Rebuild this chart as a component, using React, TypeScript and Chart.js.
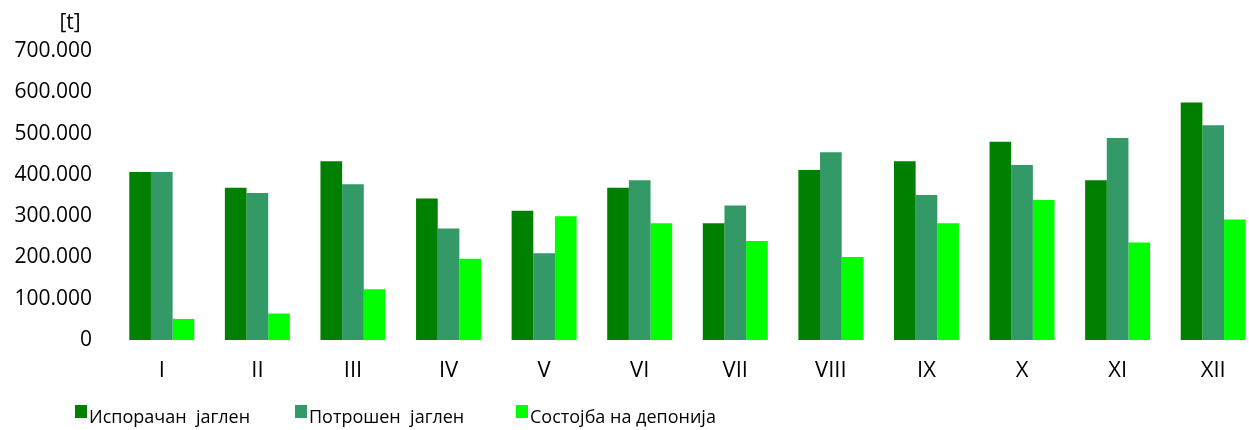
import React, { useEffect, useRef } from 'react';
import { Chart, registerables } from 'chart.js';

Chart.register(...registerables);

const categories = ['I', 'II', 'III', 'IV', 'V', 'VI', 'VII', 'VIII', 'IX', 'X', 'XI', 'XII'];
const seriesNames = ['Испорачан  јаглен', 'Потрошен  јаглен', 'Состојба на депонија'];
const delivered = [407000, 369000, 433000, 343000, 313000, 369000, 283000, 412000, 433000, 480000, 387000, 575000];
const consumed = [407000, 356000, 377000, 270000, 210000, 387000, 326000, 455000, 351000, 424000, 489000, 520000];
const stockpile = [51000, 64000, 123000, 197000, 300000, 283000, 240000, 201000, 283000, 339000, 236000, 292000];
const seriesColors = ['#008000', '#339966', '#00FF00'];
const yMin = 0;
const yMax = 700000;
const yStep = 100000;
const unitLabel = '[t]';

const FONT = "'Open Sans', 'Noto Sans', sans-serif";
const legendX = [75, 295, 516];

const formatThousands = (v: number) => String(Math.round(v)).replace(/\B(?=(\d{3})+(?!\d))/g, '.');

const overlayPlugin = {
  id: 'overlayLegend',
  afterDraw(chart: any) {
    const ctx = chart.ctx as CanvasRenderingContext2D;
    ctx.save();
    ctx.font = `21px ${FONT}`;
    ctx.fillStyle = '#000';
    ctx.textAlign = 'center';
    ctx.textBaseline = 'middle';
    ctx.fillText(unitLabel, 70, 23);
    ctx.font = `18px ${FONT}`;
    ctx.textAlign = 'left';
    ctx.textBaseline = 'alphabetic';
    chart.data.datasets.forEach((ds: any, i: number) => {
      const x = legendX[i];
      ctx.fillStyle = ds.backgroundColor;
      ctx.fillRect(x, 405, 12, 13);
      ctx.fillStyle = '#000';
      ctx.fillText(ds.label, x + 14, 423);
    });
    ctx.restore();
  },
};

export default function App() {
  const canvasRef = useRef<HTMLCanvasElement | null>(null);

  useEffect(() => {
    if (!canvasRef.current) return;
    const chart = new Chart(canvasRef.current, {
      type: 'bar',
      data: {
        labels: categories,
        datasets: [
          { label: seriesNames[0], data: delivered, backgroundColor: seriesColors[0] },
          { label: seriesNames[1], data: consumed, backgroundColor: seriesColors[1] },
          { label: seriesNames[2], data: stockpile, backgroundColor: seriesColors[2] },
        ],
      },
      options: {
        responsive: false,
        animation: false,
        devicePixelRatio: 1,
        layout: { padding: { top: 51, right: 1, bottom: 0, left: 0 } },
        datasets: {
          bar: { categoryPercentage: 0.68, barPercentage: 1.0, borderWidth: 0 },
        },
        plugins: {
          legend: { display: false },
          tooltip: { enabled: false },
          title: { display: false },
        },
        scales: {
          x: {
            grid: { display: false, drawTicks: false },
            border: { display: false },
            ticks: {
              color: '#000',
              font: { family: FONT, size: 22 },
              padding: 18,
              maxRotation: 0,
            },
            afterFit: (scale: any) => {
              scale.height = 90;
            },
          },
          y: {
            min: yMin,
            max: yMax,
            grid: { display: false, drawTicks: false },
            border: { display: false },
            ticks: {
              stepSize: yStep,
              color: '#000',
              font: { family: FONT, size: 21 },
              padding: 22,
              callback: (v: any) => formatThousands(Number(v)),
            },
            afterFit: (scale: any) => {
              scale.width = 114;
            },
          },
        },
      },
      plugins: [overlayPlugin],
    });
    return () => chart.destroy();
  }, []);

  return (
    <div
      style={{
        position: 'fixed',
        left: 0,
        top: 0,
        width: 1249,
        height: 430,
        overflow: 'hidden',
        background: '#fff',
      }}
    >
      <canvas ref={canvasRef} width={1262} height={430} style={{ display: 'block' }} />
    </div>
  );
}
